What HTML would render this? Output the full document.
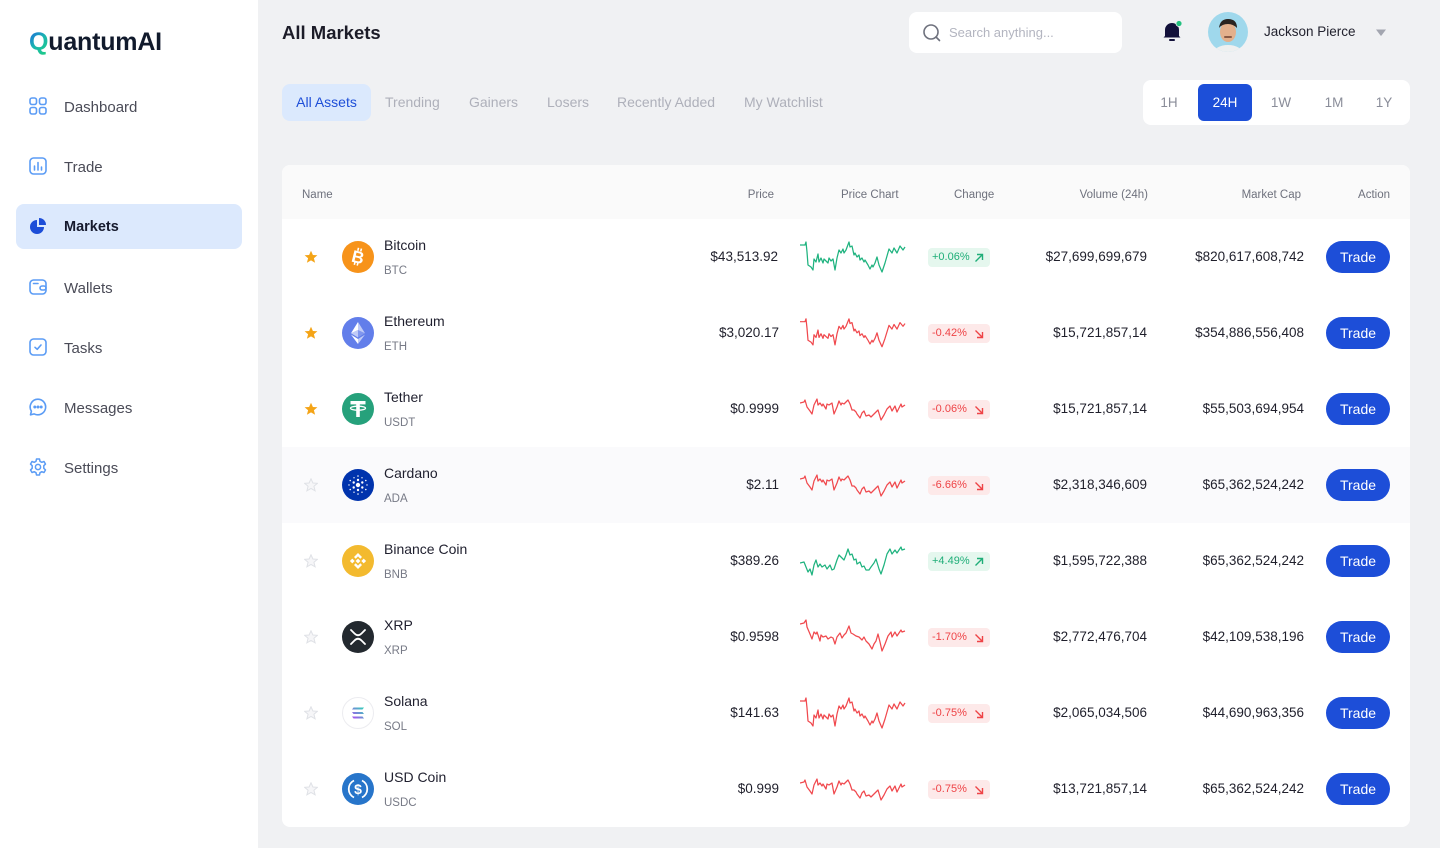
<!DOCTYPE html>
<html><head><meta charset="utf-8">
<style>
*{margin:0;padding:0;box-sizing:border-box}
body{width:1440px;height:848px;background:#f0f1f3;font-family:"Liberation Sans",Arial,sans-serif;position:relative;overflow:hidden;color:#1f1f2e}
.abs{position:absolute}
#side{position:absolute;left:0;top:0;width:258px;height:848px;background:#fff}
.logo{position:absolute;left:29px;top:27px;font-size:25px;font-weight:bold;color:#111a2c;letter-spacing:-0.2px;line-height:30px}
.logo .q{background:linear-gradient(135deg,#1f5be6 0%,#1ab6b0 50%,#1fd07e 100%);-webkit-background-clip:text;background-clip:text;color:transparent}
.nav{position:absolute;left:16px;width:226px;height:45px;border-radius:8px}
.nav svg{position:absolute;left:13px;top:13px}
.nav span{position:absolute;left:48px;top:1px;line-height:45px;font-size:15px;color:#4a4b57}
.nav.act{background:#dce9fd}
.nav.act span{color:#161a2e;font-weight:bold;font-size:14.5px}
.title{left:282px;top:21px;font-size:18.5px;font-weight:bold;color:#1c1c28;line-height:24px}
.search{left:909px;top:12px;width:213px;height:41px;background:#fff;border-radius:8px}
.search span{position:absolute;left:40px;top:0;line-height:41px;font-size:13px;color:#b3b5c0}
.tab{position:absolute;top:84px;height:37px;line-height:37px;font-size:14px;color:#aeb0ba}
.tab.act{left:282px;width:89px;background:#dbe9fd;border-radius:8px;color:#1d4ed8;text-align:center;font-weight:500}
.range{left:1143px;top:80px;width:267px;height:45px;background:#fff;border-radius:8px}
.rl{position:absolute;top:4px;height:37px;line-height:37px;font-size:13.5px;color:#8a8d99;text-align:center;width:54px}
.rl.act{background:#1d4fd8;color:#fff;border-radius:6px}
.card{left:282px;top:165px;width:1128px;height:662px;background:#fff;border-radius:8px;overflow:hidden}
.thead{position:absolute;left:0;top:0;width:1128px;height:54px;background:#fafafa}
.th{position:absolute;top:22px;font-size:11.5px;color:#6e717d;line-height:16px;white-space:nowrap}
.row{position:absolute;left:0;width:1128px;height:76px}
.row.hov{background:#fafafc}
.star{position:absolute;left:22px;top:31px}
.coin{position:absolute;left:60px;top:22px;width:32px;height:32px}
.nm{position:absolute;left:102px;top:18px;font-size:14px;line-height:16px;color:#1f1f2e}
.sy{position:absolute;left:102px;top:45px;font-size:11.5px;line-height:14px;color:#777a86}
.num{position:absolute;top:0;line-height:76px;font-size:13.5px;color:#1f1f2b;white-space:nowrap;text-align:right}
.spark{position:absolute;left:518px;top:21px}
.badge{position:absolute;left:646px;top:29px;width:62px;height:19px;border-radius:4px;font-size:11px;line-height:19px;padding-left:4px;white-space:nowrap}
.badge svg{position:absolute;right:6px;top:5px}
.g{background:#e5f7ee;color:#1fae78}
.r{background:#fde9e9;color:#ee4346}
.btn{position:absolute;left:1044px;top:22px;width:64px;height:32px;border-radius:16px;background:#1d4ed8;color:#fff;font-size:14px;line-height:32px;text-align:center}
</style></head><body>

<div id="side">
  <div class="logo"><span class="q">Q</span>uantumAI</div>

  <div class="nav" style="top:84px">
    <svg width="18" height="18" viewBox="0 0 18 18" fill="none" stroke="#5b9cf5" stroke-width="1.6"><rect x="1" y="1" width="6.5" height="6.5" rx="2"/><rect x="10.5" y="1" width="6.5" height="6.5" rx="2"/><rect x="1" y="10.5" width="6.5" height="6.5" rx="2"/><rect x="10.5" y="10.5" width="6.5" height="6.5" rx="2"/></svg>
    <span>Dashboard</span></div>
  <div class="nav" style="top:144px">
    <svg width="18" height="18" viewBox="0 0 18 18" fill="none" stroke="#5b9cf5" stroke-width="1.6" stroke-linecap="round"><rect x="1" y="1" width="16" height="16" rx="3.5"/><line x1="5.5" y1="9" x2="5.5" y2="13"/><line x1="9" y1="5.5" x2="9" y2="13"/><line x1="12.5" y1="10" x2="12.5" y2="13"/></svg>
    <span>Trade</span></div>
  <div class="nav act" style="top:204px">
    <svg width="18" height="18" viewBox="0 0 18 18"><path d="M8 3 A7 7 0 1 0 15 10 L8 10 Z" fill="#1d4ed8"/><path d="M10 1 A7 7 0 0 1 17 8 L10 8 Z" fill="#1d4ed8"/></svg>
    <span>Markets</span></div>
  <div class="nav" style="top:265px">
    <svg width="18" height="18" viewBox="0 0 18 18" fill="none" stroke="#5b9cf5" stroke-width="1.6" stroke-linecap="round"><rect x="1" y="2" width="16" height="14" rx="3.5"/><line x1="4.5" y1="5.5" x2="9" y2="5.5"/><rect x="11" y="8" width="6" height="4" rx="2"/></svg>
    <span>Wallets</span></div>
  <div class="nav" style="top:325px">
    <svg width="18" height="18" viewBox="0 0 18 18" fill="none" stroke="#5b9cf5" stroke-width="1.6" stroke-linecap="round" stroke-linejoin="round"><rect x="1" y="1" width="16" height="16" rx="3.5"/><path d="M6 9.3 L8.2 11.3 L12 7"/></svg>
    <span>Tasks</span></div>
  <div class="nav" style="top:385px">
    <svg width="18" height="18" viewBox="0 0 18 18" fill="none" stroke="#5b9cf5" stroke-width="1.6" stroke-linejoin="round"><path d="M9 1.2 A7.8 7.8 0 1 1 5.2 15.9 L1.5 16.8 L2.4 13.2 A7.8 7.8 0 0 1 9 1.2 Z"/><circle cx="5.8" cy="9" r="0.7" fill="#5b9cf5"/><circle cx="9" cy="9" r="0.7" fill="#5b9cf5"/><circle cx="12.2" cy="9" r="0.7" fill="#5b9cf5"/></svg>
    <span>Messages</span></div>
  <div class="nav" style="top:445px">
    <svg width="18" height="18" viewBox="0 0 18 18" fill="none" stroke="#5b9cf5" stroke-width="1.5" stroke-linejoin="round"><path d="M7.5 1 L10.5 1 L11 3.3 L12.8 4.3 L15 3.5 L16.5 6.1 L14.8 7.7 L14.8 10.3 L16.5 11.9 L15 14.5 L12.8 13.7 L11 14.7 L10.5 17 L7.5 17 L7 14.7 L5.2 13.7 L3 14.5 L1.5 11.9 L3.2 10.3 L3.2 7.7 L1.5 6.1 L3 3.5 L5.2 4.3 L7 3.3 Z"/><circle cx="9" cy="9" r="2.6"/></svg>
    <span>Settings</span></div>
</div>

<div class="abs title">All Markets</div>

<div class="abs search">
  <svg class="abs" style="left:13px;top:11px" width="20" height="20" viewBox="0 0 20 20" fill="none" stroke="#6e717d" stroke-width="1.6" stroke-linecap="round"><circle cx="9" cy="9" r="7"/><line x1="14" y1="14" x2="17.5" y2="17.5"/></svg>
  <span>Search anything...</span>
</div>

<svg class="abs" style="left:1160px;top:19px" width="24" height="24" viewBox="0 0 24 24"><path d="M5 17 L5 11 A7 7 0 0 1 19 11 L19 17 L20.5 18.5 L3.5 18.5 Z" fill="#13113a"/><rect x="9" y="20" width="6" height="2" rx="1" fill="#13113a"/><circle cx="19" cy="4.5" r="3" fill="#22c07f" stroke="#f0f1f3" stroke-width="0.8"/></svg>

<svg class="abs" style="left:1208px;top:12px" width="40" height="40" viewBox="0 0 40 40"><defs><clipPath id="av"><circle cx="20" cy="20" r="20"/></clipPath></defs><g clip-path="url(#av)"><rect width="40" height="40" fill="#9fd8ec"/><ellipse cx="20" cy="42" rx="15" ry="9" fill="#eef0f0"/><ellipse cx="20" cy="20" rx="8" ry="10" fill="#e3b08c"/><path d="M11 16 Q12 7 20 7 Q29 7 29 16 Q25 12 20 12 Q14 12 11 16 Z" fill="#2a2420"/><rect x="16" y="24" width="8" height="2" rx="1" fill="#8a5a44"/></g></svg>

<div class="abs" style="left:1264px;top:23px;font-size:13.5px;line-height:18px;color:#22222e;font-weight:500">Jackson Pierce</div>
<svg class="abs" style="left:1375px;top:28px" width="12" height="9" viewBox="0 0 12 9"><path d="M1 1.5 L11 1.5 L6.5 7.5 Q6 8 5.5 7.5 Z" fill="#a3a6b0"/></svg>

<div class="tab act">All Assets</div>
<div class="tab" style="left:385px">Trending</div>
<div class="tab" style="left:469px">Gainers</div>
<div class="tab" style="left:547px">Losers</div>
<div class="tab" style="left:617px">Recently Added</div>
<div class="tab" style="left:744px">My Watchlist</div>

<div class="abs range">
  <div class="rl" style="left:-1px">1H</div>
  <div class="rl act" style="left:55px">24H</div>
  <div class="rl" style="left:111px">1W</div>
  <div class="rl" style="left:164px">1M</div>
  <div class="rl" style="left:214px">1Y</div>
</div>

<svg width="0" height="0" style="position:absolute">
  <defs>
    <polyline id="sA" fill="none" stroke-width="1.25" stroke-linejoin="round" points="0,5 5,5 6,2 7,12 8,25 11,27 13,30 14,19 16,22 18,14 19,22 21,18 23,23 24,19 26,21 28,23 29,18 31,21 33,19 35,30 37,18 39,10 41,13 43,9 44,13 46,10 49,2 50,7 52,6 54,15 55,13 57,17 59,15 60,20 62,18 64,22 65,20 68,25 70,29 72,25 73,27 75,23 77,17 79,25 82,32 85,23 89,9 92,13 94,8 97,13 100,6 103,10 105,7"/>
    <polyline id="sB" fill="none" stroke-width="1.25" stroke-linejoin="round" points="0,6 4,5 5,3 7,10 10,14 12,17 14,8 17,2 18,8 20,6 22,9 23,7 26,12 27,7 29,8 32,6 34,17 37,10 39,4 41,8 42,6 44,7 46,5 48,3 50,7 52,13 54,13 56,15 57,17 60,21 62,16 64,14 66,19 69,18 71,20 74,17 76,15 78,13 81,23 84,18 87,12 90,9 92,14 95,9 97,15 101,7 102,10 105,8"/>
    <polyline id="sC" fill="none" stroke-width="1.25" stroke-linejoin="round" points="0,16 4,15 6,20 8,25 10,22 12,28 14,18 16,13 18,20 20,17 22,20 25,18 27,22 30,18 32,23 34,22 37,13 39,8 42,11 44,13 46,8 48,2 50,8 52,7 54,13 56,12 57,17 60,15 62,20 64,19 66,23 69,23 71,20 74,16 76,12 79,22 81,27 84,18 87,7 90,2 92,7 95,3 97,6 101,0 102,3 105,2"/>
    <polyline id="sX" fill="none" stroke-width="1.25" stroke-linejoin="round" points="0,5 4,4 6,1 7,8 10,15 12,20 14,13 16,15 17,13 20,22 21,16 23,18 26,17 28,20 31,18 33,19 35,25 37,18 40,14 42,19 44,16 46,14 49,7 51,14 53,15 56,17 59,18 62,21 64,18 66,22 69,25 72,30 74,25 76,22 78,15 80,23 82,32 85,25 88,17 91,13 92,18 95,13 97,17 101,11 102,13 105,12"/>
    <polygon id="st" points="7,0.8 8.9,5 13.4,5.3 9.9,8.3 11.1,12.8 7,10.4 2.9,12.8 4.1,8.3 0.6,5.3 5.1,5"/>
  </defs>
</svg>

<div class="abs card">
  <div class="thead">
    <div class="th" style="left:20px">Name</div>
    <div class="th" style="right:636px">Price</div>
    <div class="th" style="left:559px">Price Chart</div>
    <div class="th" style="left:672px">Change</div>
    <div class="th" style="right:262px">Volume (24h)</div>
    <div class="th" style="right:109px">Market Cap</div>
    <div class="th" style="right:20px">Action</div>
  </div>

  <!-- Row 1 Bitcoin -->
  <div class="row" style="top:54px">
    <svg class="star" width="14" height="14"><use href="#st" fill="#f4a417"/></svg>
    <svg class="coin" viewBox="0 0 32 32"><circle cx="16" cy="16" r="16" fill="#f7931a"/><g transform="rotate(14 16 16)"><text x="16" y="22" font-family="Liberation Sans" font-weight="bold" font-size="17" fill="#fff" text-anchor="middle">B</text><rect x="13.5" y="7" width="1.6" height="3" fill="#fff"/><rect x="16.5" y="7" width="1.6" height="3" fill="#fff"/><rect x="13.5" y="21.5" width="1.6" height="3" fill="#fff"/><rect x="16.5" y="21.5" width="1.6" height="3" fill="#fff"/></g></svg>
    <div class="nm">Bitcoin</div><div class="sy">BTC</div>
    <div class="num" style="right:632px">$43,513.92</div>
    <svg class="spark" width="106" height="34" style="top:20px"><use href="#sA" stroke="#1fb37f" transform="translate(0,1)"/></svg>
    <div class="badge g">+0.06%<svg width="10" height="10" viewBox="0 0 10 10" fill="none" stroke="#1fae78" stroke-width="1.4"><path d="M1.5 8.5 L8.5 1.5 M3 1.5 L8.5 1.5 L8.5 7"/></svg></div>
    <div class="num" style="right:263px">$27,699,699,679</div>
    <div class="num" style="right:106px">$820,617,608,742</div>
    <div class="btn">Trade</div>
  </div>

  <!-- Row 2 Ethereum -->
  <div class="row" style="top:130px">
    <svg class="star" width="14" height="14"><use href="#st" fill="#f4a417"/></svg>
    <svg class="coin" viewBox="0 0 32 32"><circle cx="16" cy="16" r="16" fill="#627eea"/><path d="M16 5 L16 13 L23 16.3 Z" fill="#fff" opacity="0.6"/><path d="M16 5 L9 16.3 L16 13 Z" fill="#fff"/><path d="M16 22 L16 27 L23 17.6 Z" fill="#fff" opacity="0.6"/><path d="M16 27 L16 22 L9 17.6 Z" fill="#fff"/><path d="M16 20.5 L23 16.3 L16 13 Z" fill="#fff" opacity="0.2"/><path d="M9 16.3 L16 20.5 L16 13 Z" fill="#fff" opacity="0.6"/></svg>
    <div class="nm">Ethereum</div><div class="sy">ETH</div>
    <div class="num" style="right:631px">$3,020.17</div>
    <svg class="spark" width="106" height="34" style="top:22px"><use href="#sA" stroke="#f0494e" transform="translate(0,0) scale(1,0.93)"/></svg>
    <div class="badge r">-0.42%<svg width="10" height="10" viewBox="0 0 10 10" fill="none" stroke="#ee4346" stroke-width="1.4"><path d="M1.5 1.5 L8.5 8.5 M3 8.5 L8.5 8.5 L8.5 3"/></svg></div>
    <div class="num" style="right:263px">$15,721,857,14</div>
    <div class="num" style="right:106px">$354,886,556,408</div>
    <div class="btn">Trade</div>
  </div>

  <!-- Row 3 Tether -->
  <div class="row" style="top:206px">
    <svg class="star" width="14" height="14"><use href="#st" fill="#f4a417"/></svg>
    <svg class="coin" viewBox="0 0 32 32"><circle cx="16" cy="16" r="16" fill="#26a17b"/><rect x="8.5" y="8" width="15" height="3.4" fill="#fff"/><rect x="14.2" y="10" width="3.6" height="14" fill="#fff"/><ellipse cx="16" cy="15.2" rx="7.5" ry="2" fill="none" stroke="#fff" stroke-width="1.3"/></svg>
    <div class="nm">Tether</div><div class="sy">USDT</div>
    <div class="num" style="right:631px">$0.9999</div>
    <svg class="spark" width="106" height="34" style="top:22px"><use href="#sB" stroke="#f0494e" transform="translate(0,4)"/></svg>
    <div class="badge r">-0.06%<svg width="10" height="10" viewBox="0 0 10 10" fill="none" stroke="#ee4346" stroke-width="1.4"><path d="M1.5 1.5 L8.5 8.5 M3 8.5 L8.5 8.5 L8.5 3"/></svg></div>
    <div class="num" style="right:263px">$15,721,857,14</div>
    <div class="num" style="right:106px">$55,503,694,954</div>
    <div class="btn">Trade</div>
  </div>

  <!-- Row 4 Cardano -->
  <div class="row hov" style="top:282px">
    <svg class="star" width="14" height="14"><use href="#st" fill="#f6f6f8" stroke="#dfe1e6" stroke-width="1"/></svg>
    <svg class="coin" viewBox="0 0 32 32"><circle cx="16" cy="16" r="16" fill="#0033ad"/><g fill="#fff"><circle cx="16" cy="16" r="2.2"/><circle cx="16" cy="11" r="1.2"/><circle cx="16" cy="21" r="1.2"/><circle cx="11.7" cy="13.5" r="1.2"/><circle cx="20.3" cy="13.5" r="1.2"/><circle cx="11.7" cy="18.5" r="1.2"/><circle cx="20.3" cy="18.5" r="1.2"/><circle cx="16" cy="7" r="0.8"/><circle cx="16" cy="25" r="0.8"/><circle cx="8.2" cy="11.5" r="0.8"/><circle cx="23.8" cy="11.5" r="0.8"/><circle cx="8.2" cy="20.5" r="0.8"/><circle cx="23.8" cy="20.5" r="0.8"/><circle cx="12" cy="8.8" r="0.7"/><circle cx="20" cy="8.8" r="0.7"/><circle cx="12" cy="23.2" r="0.7"/><circle cx="20" cy="23.2" r="0.7"/><circle cx="7" cy="16" r="0.7"/><circle cx="25" cy="16" r="0.7"/></g></svg>
    <div class="nm">Cardano</div><div class="sy">ADA</div>
    <div class="num" style="right:631px">$2.11</div>
    <svg class="spark" width="106" height="34" style="top:22px"><use href="#sB" stroke="#f0494e" transform="translate(0,4)"/></svg>
    <div class="badge r">-6.66%<svg width="10" height="10" viewBox="0 0 10 10" fill="none" stroke="#ee4346" stroke-width="1.4"><path d="M1.5 1.5 L8.5 8.5 M3 8.5 L8.5 8.5 L8.5 3"/></svg></div>
    <div class="num" style="right:263px">$2,318,346,609</div>
    <div class="num" style="right:106px">$65,362,524,242</div>
    <div class="btn">Trade</div>
  </div>

  <!-- Row 5 BNB -->
  <div class="row" style="top:358px">
    <svg class="star" width="14" height="14"><use href="#st" fill="#f6f6f8" stroke="#dfe1e6" stroke-width="1"/></svg>
    <svg class="coin" viewBox="0 0 32 32"><circle cx="16" cy="16" r="16" fill="#f3ba2f"/><g fill="#fff"><path d="M16 8 L20 12 L18.3 13.7 L16 11.4 L13.7 13.7 L12 12 Z"/><path d="M16 24 L20 20 L18.3 18.3 L16 20.6 L13.7 18.3 L12 20 Z"/><rect x="14.3" y="14.3" width="3.4" height="3.4" transform="rotate(45 16 16)"/><rect x="8.6" y="14.3" width="3.4" height="3.4" transform="rotate(45 10.3 16)"/><rect x="20" y="14.3" width="3.4" height="3.4" transform="rotate(45 21.7 16)"/></g></svg>
    <div class="nm">Binance Coin</div><div class="sy">BNB</div>
    <div class="num" style="right:631px">$389.26</div>
    <svg class="spark" width="106" height="34" style="top:22px"><use href="#sC" stroke="#1fb37f" transform="translate(0,2)"/></svg>
    <div class="badge g">+4.49%<svg width="10" height="10" viewBox="0 0 10 10" fill="none" stroke="#1fae78" stroke-width="1.4"><path d="M1.5 8.5 L8.5 1.5 M3 1.5 L8.5 1.5 L8.5 7"/></svg></div>
    <div class="num" style="right:263px">$1,595,722,388</div>
    <div class="num" style="right:106px">$65,362,524,242</div>
    <div class="btn">Trade</div>
  </div>

  <!-- Row 6 XRP -->
  <div class="row" style="top:434px">
    <svg class="star" width="14" height="14"><use href="#st" fill="#f6f6f8" stroke="#dfe1e6" stroke-width="1"/></svg>
    <svg class="coin" viewBox="0 0 32 32"><circle cx="16" cy="16" r="16" fill="#23292f"/><path d="M9 9 L12.5 12.5 Q16 16 19.5 12.5 L23 9 M9 23 L12.5 19.5 Q16 16 19.5 19.5 L23 23" fill="none" stroke="#fff" stroke-width="1.8" stroke-linecap="round"/></svg>
    <div class="nm">XRP</div><div class="sy">XRP</div>
    <div class="num" style="right:631px">$0.9598</div>
    <svg class="spark" width="106" height="34" style="top:20px"><use href="#sX" stroke="#f0494e"/></svg>
    <div class="badge r">-1.70%<svg width="10" height="10" viewBox="0 0 10 10" fill="none" stroke="#ee4346" stroke-width="1.4"><path d="M1.5 1.5 L8.5 8.5 M3 8.5 L8.5 8.5 L8.5 3"/></svg></div>
    <div class="num" style="right:263px">$2,772,476,704</div>
    <div class="num" style="right:106px">$42,109,538,196</div>
    <div class="btn">Trade</div>
  </div>

  <!-- Row 7 Solana -->
  <div class="row" style="top:510px">
    <svg class="star" width="14" height="14"><use href="#st" fill="#f6f6f8" stroke="#dfe1e6" stroke-width="1"/></svg>
    <svg class="coin" viewBox="0 0 32 32"><defs><linearGradient id="sg" x1="0" y1="1" x2="1" y2="0"><stop offset="0" stop-color="#b24bf3"/><stop offset="1" stop-color="#2ed3b7"/></linearGradient></defs><circle cx="16" cy="16" r="15.5" fill="#fff" stroke="#ececf0"/><path d="M11.5 10.5 L22 10.5 L20.5 12.5 L10 12.5 Z M10 15 L20.5 15 L22 17 L11.5 17 Z M11.5 21.5 L22 21.5 L20.5 19.5 L10 19.5 Z" fill="url(#sg)"/></svg>
    <div class="nm">Solana</div><div class="sy">SOL</div>
    <div class="num" style="right:631px">$141.63</div>
    <svg class="spark" width="106" height="34" style="top:20px"><use href="#sA" stroke="#f0494e" transform="translate(0,1)"/></svg>
    <div class="badge r">-0.75%<svg width="10" height="10" viewBox="0 0 10 10" fill="none" stroke="#ee4346" stroke-width="1.4"><path d="M1.5 1.5 L8.5 8.5 M3 8.5 L8.5 8.5 L8.5 3"/></svg></div>
    <div class="num" style="right:263px">$2,065,034,506</div>
    <div class="num" style="right:106px">$44,690,963,356</div>
    <div class="btn">Trade</div>
  </div>

  <!-- Row 8 USDC -->
  <div class="row" style="top:586px">
    <svg class="star" width="14" height="14"><use href="#st" fill="#f6f6f8" stroke="#dfe1e6" stroke-width="1"/></svg>
    <svg class="coin" viewBox="0 0 32 32"><circle cx="16" cy="16" r="16" fill="#2775ca"/><path d="M12 7.5 A9.5 9.5 0 0 0 12 24.5 M20 7.5 A9.5 9.5 0 0 1 20 24.5" fill="none" stroke="#fff" stroke-width="1.8"/><text x="16" y="21" font-family="Liberation Sans" font-weight="bold" font-size="14" fill="#fff" text-anchor="middle">$</text></svg>
    <div class="nm">USD Coin</div><div class="sy">USDC</div>
    <div class="num" style="right:631px">$0.999</div>
    <svg class="spark" width="106" height="34" style="top:22px"><use href="#sB" stroke="#f0494e" transform="translate(0,4)"/></svg>
    <div class="badge r">-0.75%<svg width="10" height="10" viewBox="0 0 10 10" fill="none" stroke="#ee4346" stroke-width="1.4"><path d="M1.5 1.5 L8.5 8.5 M3 8.5 L8.5 8.5 L8.5 3"/></svg></div>
    <div class="num" style="right:263px">$13,721,857,14</div>
    <div class="num" style="right:106px">$65,362,524,242</div>
    <div class="btn">Trade</div>
  </div>
</div>

</body></html>
